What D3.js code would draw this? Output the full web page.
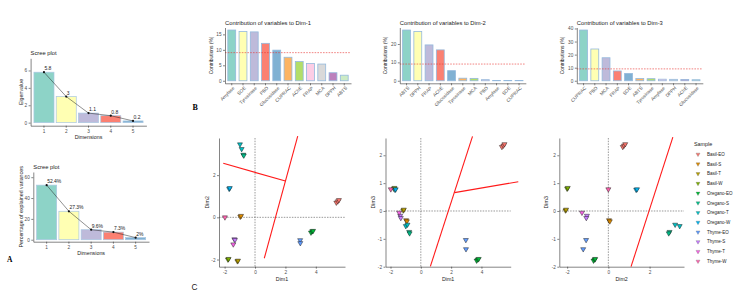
<!DOCTYPE html>
<html lang="en">
<head>
<meta charset="utf-8">
<title>PCA figure</title>
<script src="https://cdn.jsdelivr.net/npm/d3@7"></script>
<style>
  body { margin: 0; background: #fff; }
  svg text { font-family: "Liberation Sans", Arial, sans-serif; }
  .axis path, .axis line { stroke: #333; stroke-width: 0.6; }
  .axis text { fill: #4d4d4d; font-size: 4.7px; }
  .ttl { font-size: 5.8px; fill: #222; }
  .lab { font-size: 5.3px; fill: #222; }
</style>
</head>
<body>
<svg id="fig" width="742" height="299"></svg>
<script>
// ---- data ----
var dims = [1, 2, 3, 4, 5];
var eigenvalues = [5.8, 3.0, 1.1, 0.8, 0.2];
var eigenLabels = ["5.8", "3", "1.1", "0.8", "0.2"];
var variancePct = [52.4, 27.3, 9.6, 7.3, 2.0];
var varianceLabels = ["52.4%", "27.3%", "9.6%", "7.3%", "2%"];

var set3 = ["#8DD3C7", "#FFFFB3", "#BEBADA", "#FB8072", "#80B1D3", "#FDB462",
            "#B3DE69", "#FCCDE5", "#D9D9D9", "#BC80BD", "#CCEBC5"];

var dim1Vars = ["Amylase", "SOE", "Tyrosinase", "PBD", "Glucosidase", "CUPRAC", "AChE", "FRAP", "MCA", "DPPH", "ABTS"];
var dim1Contrib = [16.4, 15.9, 15.8, 12.1, 9.9, 7.6, 6.2, 5.6, 5.4, 2.6, 1.8];
var dim2Vars = ["ABTS", "DPPH", "FRAP", "AChE", "Glucosidase", "Tyrosinase", "MCA", "PBD", "Amylase", "SOE", "CUPRAC"];
var dim2Contrib = [27.6, 26.8, 19.5, 16.8, 5.5, 1.4, 1.3, 0.6, 0.2, 0.2, 0.1];
var dim3Vars = ["CUPRAC", "PBD", "MCA", "FRAP", "SOE", "ABTS", "Tyrosinase", "Amylase", "DPPH", "AChE", "Glucosidase"];
var dim3Contrib = [38.8, 24.3, 17.6, 7.5, 5.6, 1.7, 1.6, 1.2, 1.1, 1.0, 0.8];

var samples = ["Basil-EO", "Basil-S", "Basil-T", "Basil-W", "Oregano-EO", "Oregano-S",
               "Oregano-T", "Oregano-W", "Thyme-EO", "Thyme-S", "Thyme-T", "Thyme-W"];
var sampleColors = ["#F8766D", "#DE8C00", "#B79F00", "#7CAE00", "#00BA38", "#00C08B",
                    "#00BFC4", "#00B4F0", "#619CFF", "#C77CFF", "#F564E3", "#FF64B0"];

// one entry per replicate
var pcaSample = [0, 0, 0, 1, 1, 2, 2, 3, 3, 4, 4, 4, 5, 5, 6, 6, 7, 7, 8, 8, 9, 9, 10, 11];
var pcaDim1 = [5.35, 5.45, 5.52, -0.97, -0.92, -1.16, -1.12, -1.78, -1.74, 3.68, 3.76, 3.82,
               -0.77, -0.74, -0.99, -0.88, -1.70, -1.66, 2.97, 2.98, -1.36, -1.32, -1.43, -1.98];
var pcaDim2 = [0.70, 0.76, 0.82, 0.03, 0.07, -2.08, -2.05, -2.00, -1.97, -0.72, -0.66, -0.64,
               2.97, 2.93, 3.46, 3.24, 1.35, 1.39, -1.08, -1.22, -1.04, -1.07, -1.28, 0.00];
var pcaDim3 = [2.30, 2.35, 2.40, -0.33, -0.37, 0.02, 0.05, 0.80, 0.83, -1.78, -1.74, -1.72,
               -0.75, -0.80, -0.54, -0.49, 0.76, 0.78, -1.04, -1.37, -0.17, -0.25, -0.06, 0.78];

// hand-drawn red lines, in data units [xa, ya, xb, yb]
var redLines12 = [[-2.09, 2.56, 2.0, 1.72], [2.81, 3.85, 0.61, -1.94]];
var redLines13 = [[0.63, -1.99, 3.41, 2.68], [2.22, 0.66, 6.43, 1.05]];
var redLines23 = [[1.10, -2.0, 3.13, 2.65]];

var svg = d3.select("#fig");
var plainNum = function(d) { return String(d); };

// ---- scree plots ----
function scree(cfg, vals, labels, yTicks, yTitle) {
  var g = svg.append("g");
  var x = d3.scaleBand().domain(dims).range([cfg.x0, cfg.x1]).paddingInner(0.1).paddingOuter(0.15);
  var y = d3.scaleLinear().domain(cfg.yDom).range([cfg.y1, cfg.y0]);

  g.selectAll("rect").data(vals).enter().append("rect")
    .attr("x", function(d, i) { return x(dims[i]); })
    .attr("y", function(d) { return y(d); })
    .attr("width", x.bandwidth())
    .attr("height", function(d) { return y(0) - y(d); })
    .attr("fill", function(d, i) { return set3[i]; })
    .attr("stroke", "#a9c7e2").attr("stroke-width", 0.7);

  var line = d3.line()
    .x(function(d, i) { return x(dims[i]) + x.bandwidth() / 2; })
    .y(function(d) { return y(d); });
  g.append("path").datum(vals).attr("d", line)
    .attr("fill", "none").attr("stroke", "#222").attr("stroke-width", 0.5);
  g.selectAll("circle").data(vals).enter().append("circle")
    .attr("cx", function(d, i) { return x(dims[i]) + x.bandwidth() / 2; })
    .attr("cy", function(d) { return y(d); })
    .attr("r", 1.1).attr("fill", "#111");
  g.selectAll("text.val").data(vals).enter().append("text")
    .attr("class", "val")
    .attr("x", function(d, i) { return x(dims[i]) + x.bandwidth() / 2 + 0.5; })
    .attr("y", function(d) { return y(d) - 2; })
    .style("font-size", "5px").style("fill", "#222")
    .text(function(d, i) { return labels[i]; });

  g.append("g").attr("class", "axis")
    .attr("transform", "translate(0," + cfg.y1 + ")")
    .call(d3.axisBottom(x).tickSize(2).tickPadding(1.5).tickSizeOuter(0));
  g.append("g").attr("class", "axis")
    .attr("transform", "translate(" + cfg.x0 + ",0)")
    .call(d3.axisLeft(y).tickValues(yTicks).tickFormat(plainNum).tickSize(2).tickPadding(1.5).tickSizeOuter(0));

  g.append("text").attr("class", "ttl").attr("x", cfg.x0).attr("y", cfg.y0 - 3).text("Scree plot");
  g.append("text").attr("class", "lab").attr("text-anchor", "middle")
    .attr("x", (cfg.x0 + cfg.x1) / 2).attr("y", cfg.y1 + 13).text("Dimensions");
  g.append("text").attr("class", "lab").attr("text-anchor", "middle")
    .attr("transform", "translate(" + (cfg.x0 - cfg.yLabOff) + "," + ((cfg.y0 + cfg.y1) / 2) + ") rotate(-90)")
    .text(yTitle);
}

scree({x0: 30.6, x1: 146.4, y0: 58.3, y1: 125.7, yDom: [-0.35, 7.4], yLabOff: 7.5},
      eigenvalues, eigenLabels, [0, 2, 4, 6], "Eigenvalue");
scree({x0: 33.3, x1: 149, y0: 172, y1: 241.7, yDom: [-1.9, 65], yLabOff: 10.5},
      variancePct, varianceLabels, [0, 20, 40, 60], "Percentage of explained variances");

// ---- contribution plots ----
function contrib(x0, vars, vals, yTicks, title) {
  var g = svg.append("g");
  var top = 27.5, bottom = 83.3, w = 126;
  var x = d3.scaleBand().domain(vars).range([x0, x0 + w]).paddingInner(0.3).paddingOuter(0.25);
  var mx = d3.max(vals);
  var y = d3.scaleLinear().domain([-0.05 * mx, 1.05 * mx]).range([bottom, top]);

  g.selectAll("rect").data(vals).enter().append("rect")
    .attr("x", function(d, i) { return x(vars[i]); })
    .attr("y", function(d) { return y(d); })
    .attr("width", x.bandwidth())
    .attr("height", function(d) { return y(0) - y(d); })
    .attr("fill", function(d, i) { return set3[i]; })
    .attr("stroke", "#94b9dd").attr("stroke-width", 0.8);

  g.append("line")
    .attr("x1", x0).attr("x2", x0 + w)
    .attr("y1", y(100 / vars.length)).attr("y2", y(100 / vars.length))
    .attr("stroke", "#e8332f").attr("stroke-width", 0.6).attr("stroke-dasharray", "1.6,1.2");

  var xa = g.append("g").attr("class", "axis")
    .attr("transform", "translate(0," + bottom + ")")
    .call(d3.axisBottom(x).tickSize(2).tickPadding(1).tickSizeOuter(0));
  xa.selectAll("text")
    .attr("text-anchor", "end")
    .attr("transform", "rotate(-45)")
    .attr("dx", "-0.3em").attr("dy", "0.6em");
  g.append("g").attr("class", "axis")
    .attr("transform", "translate(" + x0 + ",0)")
    .call(d3.axisLeft(y).tickValues(yTicks).tickFormat(plainNum).tickSize(2).tickPadding(1.5).tickSizeOuter(0));

  g.append("text").attr("class", "ttl").attr("x", x0).attr("y", 24.5).text(title);
  g.append("text").attr("class", "lab").attr("text-anchor", "middle")
    .style("font-size", "4.9px")
    .attr("transform", "translate(" + (x0 - 12.5) + "," + ((top + bottom) / 2) + ") rotate(-90)")
    .text("Contributions (%)");
}

contrib(225, dim1Vars, dim1Contrib, [0, 5, 10, 15], "Contribution of variables to Dim-1");
contrib(399.8, dim2Vars, dim2Contrib, [0, 10, 20], "Contribution of variables to Dim-2");
contrib(576.8, dim3Vars, dim3Contrib, [0, 10, 20, 30, 40], "Contribution of variables to Dim-3");

// ---- PCA score plots ----
var tri = d3.symbol().type(d3.symbolTriangle).size(11);

function scatter(cfg, xs, ys, xTicks, yTicks, xName, yName, lines) {
  var g = svg.append("g");
  var top = 138, bottom = 266.7;
  var x = d3.scaleLinear().domain(cfg.xDom).range([cfg.x0, cfg.x1]);
  var y = d3.scaleLinear().domain(cfg.yDom).range([bottom, top]);

  g.append("line").attr("x1", x(0)).attr("x2", x(0)).attr("y1", top).attr("y2", bottom)
    .attr("stroke", "#555").attr("stroke-width", 0.6).attr("stroke-dasharray", "1.5,1.2");
  g.append("line").attr("x1", cfg.x0).attr("x2", cfg.x1).attr("y1", y(0)).attr("y2", y(0))
    .attr("stroke", "#555").attr("stroke-width", 0.6).attr("stroke-dasharray", "1.5,1.2");

  g.append("g").attr("class", "axis")
    .attr("transform", "translate(0," + bottom + ")")
    .call(d3.axisBottom(x).tickValues(xTicks).tickFormat(plainNum).tickSize(2).tickPadding(1.5).tickSizeOuter(0));
  g.append("g").attr("class", "axis")
    .attr("transform", "translate(" + cfg.x0 + ",0)")
    .call(d3.axisLeft(y).tickValues(yTicks).tickFormat(plainNum).tickSize(2).tickPadding(1.5).tickSizeOuter(0));

  g.selectAll("path.pt").data(pcaSample).enter().append("path")
    .attr("class", "pt")
    .attr("d", tri)
    .attr("transform", function(d, i) {
      return "translate(" + x(xs[i]) + "," + y(ys[i]) + ") rotate(180)";
    })
    .attr("fill", function(d) { return sampleColors[d]; })
    .attr("stroke", "#111").attr("stroke-width", 0.45);

  g.selectAll("line.red").data(lines).enter().append("line")
    .attr("class", "red")
    .attr("x1", function(d) { return x(d[0]); }).attr("y1", function(d) { return y(d[1]); })
    .attr("x2", function(d) { return x(d[2]); }).attr("y2", function(d) { return y(d[3]); })
    .attr("stroke", "#ff1a1a").attr("stroke-width", 1.1);

  g.append("text").attr("class", "lab").attr("text-anchor", "middle")
    .attr("x", (cfg.x0 + cfg.x1) / 2).attr("y", bottom + 14).text(xName);
  g.append("text").attr("class", "lab").attr("text-anchor", "middle")
    .attr("transform", "translate(" + (cfg.x0 - cfg.yLabOff) + "," + ((top + bottom) / 2) + ") rotate(-90)")
    .text(yName);
}

scatter({x0: 219, x1: 345, xDom: [-2.37, 5.92], yDom: [-2.34, 3.76], yLabOff: 10},
        pcaDim1, pcaDim2, [-2, 0, 2, 4], [-2, 0, 2], "Dim1", "Dim2", redLines12);
scatter({x0: 385.5, x1: 510.7, xDom: [-2.33, 5.93], yDom: [-2.0, 2.62], yLabOff: 11},
        pcaDim1, pcaDim3, [-2, 0, 2, 4], [-2, -1, 0, 1, 2], "Dim1", "Dim3", redLines13);
scatter({x0: 559.3, x1: 684, xDom: [-2.38, 3.67], yDom: [-2.0, 2.62], yLabOff: 11.5},
        pcaDim2, pcaDim3, [-2, 0, 2], [-2, -1, 0, 1, 2], "Dim2", "Dim3", redLines23);

// legend
var leg = svg.append("g").attr("transform", "translate(694,0)");
leg.append("text").attr("class", "lab").style("font-size", "5.4px").attr("x", 0).attr("y", 146).text("Sample");
var legY = d3.scalePoint().domain(samples).range([154.3, 261.3]);
leg.selectAll("path").data(samples).enter().append("path")
  .attr("d", d3.symbol().type(d3.symbolTriangle).size(7))
  .attr("transform", function(d) { return "translate(4," + legY(d) + ") rotate(180)"; })
  .attr("fill", function(d, i) { return sampleColors[i]; })
  .attr("stroke", "#666").attr("stroke-width", 0.3);
leg.selectAll("text.item").data(samples).enter().append("text")
  .attr("class", "item")
  .attr("x", 13).attr("y", function(d) { return legY(d) + 1.6; })
  .style("font-size", "4.5px").style("fill", "#222")
  .text(function(d) { return d; });

// panel letters
svg.append("text").attr("x", 7).attr("y", 262).style("font-family", "Liberation Serif, serif")
  .style("font-weight", "bold").style("font-size", "7.5px").text("A");
svg.append("text").attr("x", 192.5).attr("y", 110).style("font-family", "Liberation Serif, serif")
  .style("font-weight", "bold").style("font-size", "8px").text("B");
svg.append("text").attr("x", 191.5).attr("y", 290.3).style("font-size", "8.3px").style("fill", "#222").text("C");
</script>
</body>
</html>
